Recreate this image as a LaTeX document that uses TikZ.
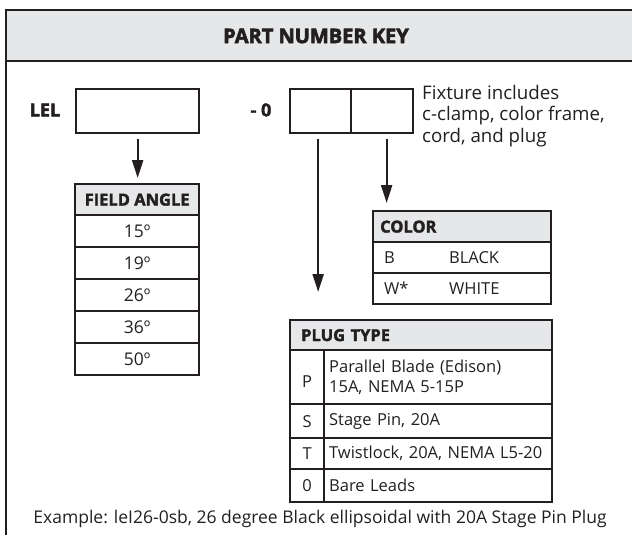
\documentclass[tikz,border=0pt]{standalone}
\usepackage{fontspec}
\setmainfont{Open Sans}
\newfontfamily\heavy{Open Sans}[FakeBold=2]
\newfontfamily\heavier{Open Sans}[FakeBold=3]
\usetikzlibrary{arrows.meta}
\definecolor{ink}{HTML}{231F20}
\definecolor{band}{HTML}{E6E7E8}
\begin{document}
\begin{tikzpicture}[x=1pt,y=-1pt,
  box/.style={draw=ink, line width=2.3pt, inner sep=0pt, anchor=north west},
  txt/.style={font=\fontsize{16.5}{20}\selectfont, text=ink},
  num/.style={font=\fontsize{17.5}{20}\selectfont, text=ink},
  hd/.style={box, fill=band, font=\heavy\bfseries\fontsize{16.5}{18}\selectfont, text=ink},
  arr/.style={draw=ink, line width=2.2pt, -{Triangle[length=18pt,width=11pt]}},
  lbl/.style={font=\heavy\bfseries\fontsize{18}{20}\selectfont, text=ink}]
\useasboundingbox (0,0) rectangle (632,535);
\clip (0,0) rectangle (632,535);
% frame and title band
\fill[band] (6,10) rectangle (650,61);
\draw[ink, line width=2.6pt] (6,560) -- (6,10) -- (650,10);
\draw[ink, line width=2.6pt] (6,61) -- (650,61);
\node[font=\heavier\bfseries\fontsize{20}{22}\selectfont, text=ink] (title) at (316,36) {PART NUMBER KEY};
% part number line
\node[lbl] (lel) at (45,110) {LEL};
\node[box, minimum width=123pt, minimum height=44pt] (lelbox) at (75,88) {};
\node[lbl] (dash) at (261,110) {- 0};
\node[box, minimum width=61pt, minimum height=44pt] (c1) at (289,88) {};
\node[box, minimum width=62pt, minimum height=44pt] (c2) at (350,88) {};
\node[anchor=north west, align=left, inner sep=0pt, text=ink, font=\fontsize{18.7}{21.5}\selectfont] (fix) at (422,85) {Fixture includes\\c-clamp, color frame,\\cord, and plug};
% field angle table
\node[hd, minimum width=124pt, minimum height=31pt] (fh) at (74,183) {FIELD ANGLE};
\node[box, num, minimum width=124pt, minimum height=32pt] (f1) at (74,214) {15º};
\node[box, num, minimum width=124pt, minimum height=32pt] (f2) at (74,246) {19º};
\node[box, num, minimum width=124pt, minimum height=32pt] (f3) at (74,278) {26º};
\node[box, num, minimum width=124pt, minimum height=32pt] (f4) at (74,310) {36º};
\node[box, num, minimum width=124pt, minimum height=32pt] (f5) at (74,342) {50º};
% color table
\node[hd, minimum height=31pt, text width=164pt, inner xsep=7pt, align=left] (ch) at (372,210) {COLOR};
\node[box, txt, minimum height=31pt, text width=156pt, inner xsep=11pt, align=left] (cb) at (372,241) {\makebox[65pt][l]{B}BLACK};
\node[box, txt, minimum height=31pt, text width=156pt, inner xsep=11pt, align=left] (cw) at (372,272) {\makebox[65pt][l]{W*}WHITE};
% plug type table
\node[hd, minimum height=30pt, text width=240pt, inner xsep=11pt, align=left] (ph) at (289,319) {PLUG TYPE};
\node[box, txt, minimum height=54pt, text width=34pt, align=center] (pPl) at (289,349) {\mbox{}\\P};
\node[box, txt, minimum height=54pt, text width=218pt, inner xsep=5pt, align=left] (pPt) at (323,349) {Parallel Blade (Edison)\\15A, NEMA 5-15P};
\node[box, txt, minimum height=34pt, text width=34pt, align=center] (pSl) at (289,403) {S};
\node[box, txt, minimum height=34pt, text width=218pt, inner xsep=5pt, align=left] (pSt) at (323,403) {Stage Pin, 20A};
\node[box, txt, minimum height=31pt, text width=34pt, align=center] (pTl) at (289,437) {T};
\node[box, txt, minimum height=31pt, text width=218pt, inner xsep=5pt, align=left] (pTt) at (323,437) {Twistlock, 20A, NEMA L5-20};
\node[box, txt, minimum height=33pt, text width=34pt, align=center] (p0l) at (289,468) {0};
\node[box, txt, minimum height=33pt, text width=218pt, inner xsep=5pt, align=left] (p0t) at (323,468) {Bare Leads};
% arrows
\draw[arr, shorten <=5pt, shorten >=5pt] (lelbox.south) -- (lelbox.south |- fh.north);
\draw[arr, shorten <=5pt, shorten >=27pt] ([xshift=-2.5pt]c1.south) -- ([xshift=-2.5pt]c1.south |- ph.north);
\draw[arr, shorten <=5pt, shorten >=7pt] ([xshift=4.5pt]c2.south) -- ([xshift=4.5pt]c2.south |- ch.north);
% example
\node[font=\fontsize{17.5}{20}\selectfont, text=ink] (ex) at (320,519) {Example: leI26-0sb, 26 degree Black ellipsoidal with 20A Stage Pin Plug};
\end{tikzpicture}
\end{document}
